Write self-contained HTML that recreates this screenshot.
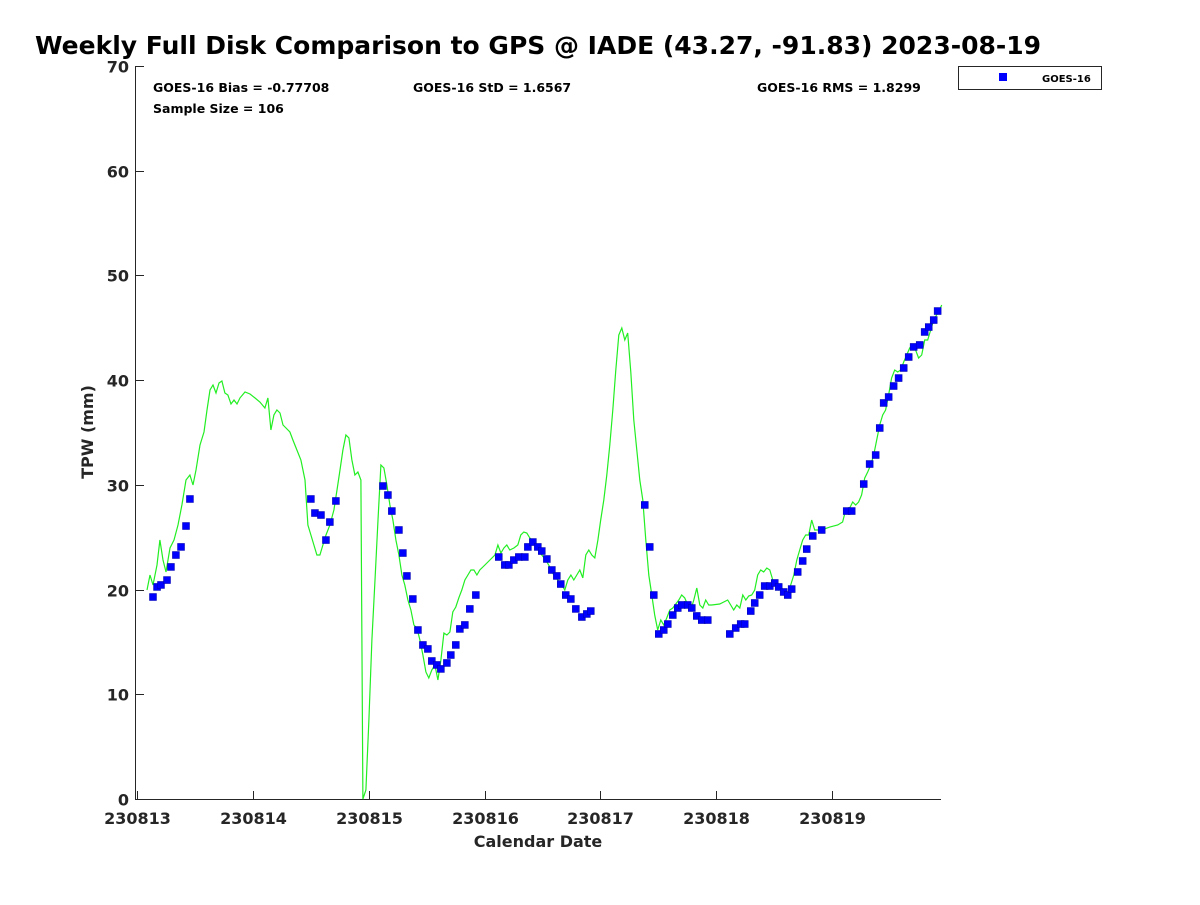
<!DOCTYPE html>
<html><head><meta charset="utf-8"><style>
body{margin:0;background:#fff;}
svg text{font-family:"DejaVu Sans","Liberation Sans",sans-serif;font-weight:bold;fill:#262626;}
</style></head><body>
<svg id="chart" width="1200" height="900" xmlns="http://www.w3.org/2000/svg">
<text x="35" y="54" style="font-size:25px;fill:#000">Weekly Full Disk Comparison to GPS @ IADE (43.27, -91.83) 2023-08-19</text>
<g id="axes"></g>
<g id="series"></g>
<text x="153" y="92" style="font-size:12.5px;fill:#000">GOES-16 Bias = -0.77708</text>
<text x="153" y="113" style="font-size:12.5px;fill:#000">Sample Size = 106</text>
<text x="413" y="92" style="font-size:12.5px;fill:#000">GOES-16 StD = 1.6567</text>
<text x="757" y="92" style="font-size:12.5px;fill:#000">GOES-16 RMS = 1.8299</text>
<g>
<rect x="958.5" y="66.5" width="143" height="23" fill="#fff" stroke="#262626" stroke-width="1"/>
<rect x="999" y="73" width="8" height="8" fill="#0000ff"/>
<text x="1042" y="82" style="font-size:10px;fill:#000">GOES-16</text>
</g>
<text x="538" y="847" text-anchor="middle" style="font-size:16px">Calendar Date</text>
<text transform="translate(93,432) rotate(-90)" text-anchor="middle" style="font-size:16px">TPW (mm)</text>
</svg>
<script>
const xTickLabels=["230813","230814","230815","230816","230817","230818","230819"];
const yTicks=[0,10,20,30,40,50,60,70];
const gpsDays=[0.086,0.112,0.138,0.173,0.198,0.224,0.250,0.285,0.319,0.354,0.388,0.423,0.457,0.483,0.509,0.544,0.578,0.604,0.630,0.656,0.682,0.708,0.733,0.759,0.785,0.811,0.837,0.863,0.889,0.932,0.975,1.018,1.061,1.104,1.130,1.156,1.182,1.208,1.234,1.260,1.286,1.320,1.346,1.380,1.415,1.450,1.475,1.501,1.527,1.553,1.579,1.605,1.631,1.665,1.700,1.726,1.752,1.777,1.803,1.829,1.855,1.881,1.907,1.933,1.950,1.976,2.002,2.028,2.054,2.080,2.105,2.131,2.157,2.183,2.209,2.235,2.261,2.287,2.312,2.338,2.364,2.390,2.416,2.442,2.468,2.494,2.519,2.545,2.571,2.597,2.623,2.649,2.675,2.701,2.726,2.752,2.778,2.804,2.830,2.856,2.882,2.908,2.934,2.959,3.003,3.046,3.089,3.115,3.141,3.167,3.192,3.218,3.253,3.287,3.313,3.339,3.365,3.391,3.425,3.460,3.494,3.529,3.563,3.598,3.632,3.667,3.693,3.719,3.745,3.770,3.796,3.822,3.848,3.874,3.900,3.926,3.952,3.978,4.003,4.029,4.055,4.081,4.107,4.133,4.159,4.185,4.211,4.236,4.262,4.288,4.314,4.340,4.366,4.392,4.418,4.444,4.469,4.495,4.521,4.547,4.573,4.599,4.625,4.651,4.677,4.702,4.728,4.754,4.780,4.806,4.832,4.858,4.884,4.909,4.935,4.961,5.030,5.099,5.125,5.151,5.177,5.203,5.229,5.255,5.280,5.306,5.332,5.358,5.384,5.410,5.436,5.462,5.488,5.513,5.539,5.565,5.591,5.617,5.643,5.669,5.695,5.720,5.746,5.772,5.798,5.824,5.850,5.876,5.910,5.979,6.048,6.091,6.117,6.152,6.178,6.204,6.229,6.255,6.281,6.307,6.333,6.359,6.385,6.411,6.437,6.462,6.488,6.514,6.540,6.566,6.592,6.618,6.644,6.670,6.695,6.721,6.747,6.773,6.799,6.825,6.851,6.877,6.902,6.928,6.946];
const gpsTpw=[19.96,21.39,20.44,22.35,24.73,22.82,21.68,23.97,24.73,26.17,28.08,30.46,30.94,29.99,31.42,33.81,35.05,37.15,39.06,39.54,38.77,39.73,39.92,38.77,38.58,37.72,38.10,37.72,38.30,38.87,38.68,38.30,37.91,37.34,38.30,35.24,36.67,37.15,36.86,35.72,35.43,35.05,34.28,33.33,32.37,30.46,26.17,25.21,24.26,23.30,23.30,24.26,25.21,26.17,27.60,29.51,31.42,33.33,34.76,34.48,32.37,30.94,31.23,30.46,0,0.86,7.55,15.18,20.91,26.64,31.90,31.61,29.99,28.08,26.64,24.73,23.30,21.39,20.44,19.00,18.05,16.62,16.33,15.18,13.75,12.13,11.56,12.32,12.80,11.36,13.27,15.85,15.66,15.95,17.86,18.34,19.20,19.96,20.91,21.39,21.87,21.87,21.39,21.87,22.35,22.82,23.30,24.26,23.49,23.97,24.26,23.78,23.97,24.26,25.21,25.50,25.40,24.93,24.54,23.97,23.30,22.82,22.16,21.39,20.91,20.44,19.96,20.91,21.39,20.91,21.39,21.87,21.11,23.30,23.78,23.30,23.02,24.73,26.64,28.55,30.94,33.81,37.15,40.97,44.31,44.98,43.83,44.50,40.78,36.19,33.33,30.46,28.55,24.73,21.39,19.48,17.57,16.14,17.09,16.62,17.29,18.05,18.24,18.62,19.00,19.48,19.20,18.53,18.05,19.00,20.15,18.53,18.24,19.00,18.53,18.53,18.62,19.00,18.53,18.05,18.53,18.24,19.48,19.00,19.39,19.48,19.96,21.39,21.87,21.68,22.06,21.87,20.91,20.72,19.96,20.15,19.77,19.48,20.44,21.39,22.82,23.78,24.73,25.21,25.21,26.64,25.69,25.69,25.69,25.97,26.17,26.45,27.60,27.79,28.36,28.08,28.36,29.03,30.65,31.23,31.90,32.85,34.28,35.72,36.67,37.15,38.58,40.20,40.97,40.78,40.97,41.73,42.40,43.07,43.36,42.88,42.11,42.40,43.83,43.83,44.79,45.74,46.22,46.70,47.18];
const goesDays=[0.138,0.173,0.207,0.259,0.293,0.336,0.380,0.423,0.457,1.501,1.536,1.588,1.631,1.665,1.717,2.123,2.166,2.200,2.261,2.295,2.330,2.381,2.425,2.468,2.511,2.545,2.588,2.623,2.675,2.709,2.752,2.787,2.830,2.873,2.925,3.123,3.175,3.210,3.253,3.296,3.348,3.374,3.417,3.460,3.494,3.538,3.581,3.624,3.658,3.701,3.745,3.788,3.840,3.883,3.917,4.383,4.426,4.461,4.504,4.547,4.582,4.625,4.668,4.702,4.754,4.789,4.832,4.875,4.927,5.117,5.168,5.211,5.246,5.298,5.332,5.375,5.418,5.462,5.505,5.539,5.582,5.617,5.651,5.703,5.746,5.781,5.833,5.910,6.126,6.169,6.273,6.324,6.376,6.411,6.445,6.488,6.531,6.574,6.618,6.661,6.704,6.756,6.799,6.834,6.877,6.911];
const goesTpw=[19.29,20.25,20.44,20.91,22.16,23.30,24.07,26.07,28.65,28.65,27.31,27.12,24.73,26.45,28.46,29.89,29.03,27.50,25.69,23.49,21.30,19.10,16.14,14.71,14.33,13.18,12.80,12.42,12.99,13.75,14.71,16.24,16.62,18.15,19.48,23.11,22.35,22.35,22.82,23.11,23.11,24.07,24.54,24.07,23.68,22.92,21.87,21.30,20.53,19.48,19.10,18.15,17.38,17.67,17.95,28.08,24.07,19.48,15.76,16.14,16.71,17.57,18.24,18.53,18.53,18.24,17.48,17.09,17.09,15.76,16.33,16.71,16.71,17.95,18.72,19.48,20.34,20.34,20.63,20.25,19.77,19.48,20.05,21.68,22.73,23.87,25.12,25.69,27.50,27.50,30.08,31.99,32.85,35.43,37.82,38.39,39.44,40.20,41.16,42.21,43.17,43.36,44.60,45.07,45.74,46.60];

const NS='http://www.w3.org/2000/svg';
const L=137,R=941,T=66,B=799;
const X=d=>L+d*(R-L)/6.94;
const Y=v=>B-v*(B-T)/70;
function mk(tag,attrs,parent){const e=document.createElementNS(NS,tag);for(const k in attrs)e.setAttribute(k,attrs[k]);parent.appendChild(e);return e;}
const axes=document.getElementById('axes');
const series=document.getElementById('series');
let e=mk('path',{d:`M${L-1.5},${T} V${B+0.5} H${R}`,fill:'none',stroke:'#262626','stroke-width':1},axes);


yTicks.forEach(v=>{
  const y=Math.round(Y(v))+0.5;
  const t=mk('line',{x1:L-1,x2:L+7,y1:y,y2:y,stroke:'#262626'},axes);
  
  
  const lb=mk('text',{x:L-8,y:y+6,'text-anchor':'end',style:'font-size:16px'},axes);
  lb.textContent=v;
  
  
});
xTickLabels.forEach((s,i)=>{
  const x=Math.round(X(i))+0.5;
  const t=mk('line',{x1:x,x2:x,y1:B,y2:B-8,stroke:'#262626'},axes);
  
  
  const lb=mk('text',{x:x,y:B+25,'text-anchor':'middle',style:'font-size:16px'},axes);
  lb.textContent=s;
  
  
});
const d=gpsDays.map((t,i)=>(i?'L':'M')+X(t).toFixed(1)+','+Y(gpsTpw[i]).toFixed(1)).join(' ');
const line=mk('path',{d:d,fill:'none',stroke:'#22ee22','stroke-width':1.2},series);


goesDays.forEach((t,i)=>{
  const r=mk('rect',{x:X(t)-3.5,y:Y(goesTpw[i])-3.5,width:7,height:7,fill:'#0000ff',stroke:'#0000aa','stroke-width':0.5},series);
  
  
});
</script>
</body></html>
